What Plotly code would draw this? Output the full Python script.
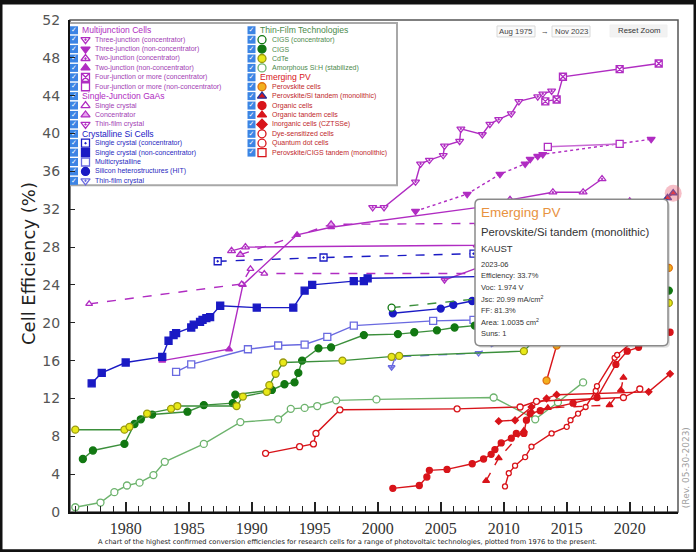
import plotly.graph_objects as go

# page pixels of the plot area (only used for the decorations drawn on x2/y2)
L, R, T, B = 70, 678, 18, 512

# ---------------- data: year vs. cell efficiency (%) ----------------
mj3c_year = [1999.6, 2000.5, 2003.0, 2003.4, 2004.1, 2005.2, 2005.3, 2006.5, 2006.6, 2008.3, 2008.9, 2009.6, 2010.6, 2011.2, 2012.7, 2013.1, 2013.8]
mj3c_eff = [32.2, 32.2, 34.9, 36.8, 37.2, 37.7, 38.7, 39.2, 40.5, 39.9, 41.0, 41.5, 42.1, 43.4, 43.9, 44.2, 44.5]
mj3n_year = [2003.0, 2007.1, 2009.7, 2011.7, 2012.1, 2012.7, 2013.1, 2021.7]
mj3n_eff = [31.8, 33.6, 35.7, 36.8, 37.3, 37.6, 37.8, 39.4]
mj2c_year = [1988.4, 1989.5, 2007.9, 2010.5, 2013.9, 2016.3, 2017.8]
mj2c_eff = [27.6, 28.0, 28.2, 33.0, 33.8, 33.8, 35.2]
mj2n_year = [1982.9, 1988.2, 1989.3, 1993.6, 1996.3, 2008.0, 2013.0, 2017.5, 2020.0]
mj2n_eff = [16.0, 17.2, 24.0, 29.3, 30.1, 32.2, 32.5, 32.6, 32.9]
mj4c_year = [2013.3, 2014.2, 2014.7, 2019.2, 2022.3]
mj4c_eff = [43.4, 43.6, 46.0, 46.8, 47.4]
mj4n_year = [2013.5, 2019.2]
mj4n_eff = [38.6, 38.9]

gaas_sc_year = [1977.1, 1989.2, 1989.9, 1991.0, 2012.0, 2018.5]
gaas_sc_eff = [22.0, 24.1, 25.7, 25.2, 25.2, 27.8]
gaas_conc_year = [1989.1, 1996.3, 2008.0, 2010.0]
gaas_conc_eff = [27.2, 30.4, 30.5, 29.1]
gaas_tf_year = [2005.3, 2008.5, 2011.5, 2018.5]
gaas_tf_eff = [24.5, 26.1, 28.8, 29.1]

si_c_year = [1987.3, 1995.7, 2007.6, 2014.0]
si_c_eff = [26.5, 26.9, 27.3, 27.6]
si_n_year = [1977.3, 1978.1, 1980.0, 1982.9, 1983.4, 1983.8, 1984.0, 1985.2, 1985.4, 1985.9, 1986.1, 1986.4,
             1986.7, 1987.5, 1990.4, 1993.3, 1994.2, 1994.8, 1998.1, 1998.9, 1999.2, 2014.0, 2018.5]
si_n_eff = [13.6, 14.7, 15.8, 16.4, 18.1, 18.7, 18.9, 19.5, 19.8, 20.1, 20.3, 20.5,
            20.6, 21.8, 21.6, 21.6, 23.4, 24.0, 24.4, 24.4, 24.7, 25.0, 26.1]
si_mc_year = [1984.0, 1985.2, 1989.7, 1992.1, 1994.2, 1996.0, 1998.1, 2004.4, 2007.6, 2015.0, 2017.5, 2020.5]
si_mc_eff = [14.8, 15.6, 17.2, 17.6, 17.7, 18.5, 19.7, 20.2, 20.3, 21.3, 22.3, 23.3]
si_hit_year = [2001.2, 2005.0, 2006.0, 2007.5, 2011.0, 2014.3, 2017.0]
si_hit_eff = [21.0, 21.5, 21.9, 22.3, 23.0, 25.6, 26.7]
si_tf_year = [2001.1, 2001.4, 2008.0, 2014.5]
si_tf_eff = [15.3, 16.4, 16.8, 21.2]

cigs_c_year = [2001.1, 2013.5]
cigs_c_eff = [21.6, 23.3]
cigs_year = [1976.6, 1977.4, 1979.9, 1980.7, 1981.2, 1982.1, 1984.9, 1986.2, 1988.5, 1988.7, 1991.6, 1992.6, 1993.4, 1993.7,
             1994.0, 1995.3, 1996.3, 1998.9, 2001.6, 2002.9, 2004.7, 2006.1, 2007.7, 2013.5, 2016.0, 2019.0, 2023.1]
cigs_eff = [5.6, 6.5, 7.2, 9.3, 9.8, 10.3, 10.6, 11.3, 11.5, 12.4, 12.9, 13.5, 13.7, 14.7,
            16.0, 17.3, 17.4, 18.7, 18.8, 19.0, 19.2, 19.5, 19.7, 21.7, 22.6, 23.35, 23.4]
cdte_year = [1976.0, 1979.9, 1980.3, 1981.7, 1983.6, 1984.1, 1988.8, 1989.3, 1991.2, 1991.4, 1991.9, 1992.5,
             1997.2, 2001.1, 2001.7, 2011.6, 2013.5, 2014.5, 2016.0, 2023.1]
cdte_eff = [8.7, 8.7, 9.0, 10.4, 10.9, 11.2, 11.2, 12.2, 12.7, 13.4, 14.6, 15.8,
            16.0, 16.4, 16.5, 17.0, 19.6, 21.0, 22.1, 22.1]
asi_year = [1976.0, 1978.0, 1979.1, 1980.1, 1981.1, 1982.2, 1983.1, 1986.2, 1989.1, 1992.1, 1993.1, 1994.2,
            1995.2, 1996.7, 1999.9, 2009.2, 2012.5, 2014.3, 2016.3]
asi_eff = [0.5, 1.0, 2.1, 2.8, 3.1, 3.9, 5.3, 7.2, 9.5, 9.8, 10.9, 11.0,
           11.2, 11.8, 11.9, 12.1, 9.8, 11.6, 13.7]

pvk_year = [2013.4, 2014.2, 2014.9, 2016.0, 2017.0, 2019.5, 2021.0, 2023.1]
pvk_eff = [13.9, 17.6, 20.1, 22.1, 22.7, 25.2, 25.7, 25.8]
pvsi_year = [2016.0, 2017.0, 2018.4, 2018.8, 2019.9, 2020.9, 2022.0, 2022.5, 2023.0, 2023.45]
pvsi_eff = [23.6, 25.2, 27.3, 28.0, 29.1, 29.8, 31.3, 32.5, 33.2, 33.7]
org_year = [2001.2, 2003.3, 2003.9, 2004.1, 2005.5, 2007.5, 2008.4, 2009.0, 2009.3, 2009.8, 2010.6, 2011.0,
            2011.6, 2011.8, 2012.1, 2012.9, 2015.5, 2017.4, 2018.9, 2019.8, 2020.7, 2022.0, 2023.2]
org_eff = [2.5, 2.8, 3.7, 4.4, 4.5, 5.1, 5.6, 6.1, 6.6, 7.3, 7.8, 8.3,
           8.3, 9.7, 10.4, 10.7, 11.5, 12.1, 15.6, 17.0, 17.4, 18.2, 19.0]
org_t_year = [2008.6, 2009.6, 2011.6, 2012.2, 2013.5, 2018.4, 2019.3, 2019.5]
org_t_eff = [3.3, 5.7, 8.6, 10.6, 11.0, 11.3, 12.9, 14.2]
czts_year = [2009.6, 2010.9, 2012.2, 2013.4, 2014.2, 2021.5, 2023.2]
czts_eff = [9.6, 9.7, 11.1, 12.0, 12.4, 12.7, 14.6]
dssc_year = [1991.1, 1993.8, 1994.9, 1995.1, 1997.0, 2006.3, 2011.3, 2012.6, 2019.5, 2020.8]
dssc_eff = [6.2, 6.9, 7.2, 8.3, 10.8, 10.9, 11.1, 11.7, 12.1, 13.0]
qd_year = [2010.1, 2010.4, 2010.9, 2011.7, 2012.2, 2013.8, 2015.0, 2015.3, 2015.9, 2016.5, 2017.3, 2017.4, 2018.8, 2019.0, 2020.3]
qd_eff = [2.7, 4.1, 4.9, 5.8, 6.9, 8.3, 9.0, 9.7, 10.4, 11.1, 12.8, 13.3, 16.3, 16.6, 18.1]
pvcigs_year = [2019.9, 2020.8, 2022.3]
pvcigs_eff = [23.3, 24.2, 24.2]

x_ticks = [1980, 1985, 1990, 1995, 2000, 2005, 2010, 2015, 2020]
y_ticks = list(range(0, 53, 4))

# ---------------- styles ----------------
MJ = "#b02cc2"
MJ_L = "#c86ad4"
SI = "#1a1ac4"
SI_L = "#6a6ae0"
GR = "#3b8f3b"
GR_D = "#127812"
GR_L = "#6db36d"
YEL = "#e8e818"
RED = "#d8141a"
ORA = "#f2b01e"
W = "white"

# label, x, y, line colour, marker fill, marker edge, symbol, dash, size
series = {
    "mj3c": ("Three-junction (concentrator)", mj3c_year, mj3c_eff, MJ, W, MJ, "triangle-down-dot", "solid", 7),
    "mj3n": ("Three-junction (non-concentrator)", mj3n_year, mj3n_eff, MJ, MJ, MJ, "triangle-down", "dot", 7),
    "mj2c": ("Two-junction (concentrator)", mj2c_year, mj2c_eff, MJ, W, MJ, "triangle-up-dot", "solid", 7),
    "mj2n": ("Two-junction (non-concentrator)", mj2n_year, mj2n_eff, MJ, MJ, MJ, "triangle-up", "solid", 6),
    "mj4c": ("Four-junction or more (concentrator)", mj4c_year, mj4c_eff, MJ, W, MJ, "square-x", "solid", 7),
    "mj4n": ("Four-junction or more (non-concentrator)", mj4n_year, mj4n_eff, MJ_L, W, MJ, "square", "solid", 7),
    "gaas_sc": ("Single crystal", gaas_sc_year, gaas_sc_eff, MJ, W, MJ, "triangle-up", "dash", 6),
    "gaas_conc": ("Concentrator", gaas_conc_year, gaas_conc_eff, MJ, "#e6a3ee", MJ, "triangle-up", "dash", 7),
    "gaas_tf": ("Thin-film crystal", gaas_tf_year, gaas_tf_eff, MJ, W, MJ, "triangle-down-dot", "solid", 6),
    "si_c": ("Single crystal (concentrator)", si_c_year, si_c_eff, SI, W, SI, "square-dot", "dash", 7),
    "si_n": ("Single crystal (non-concentrator)", si_n_year, si_n_eff, SI, SI, SI, "square", "solid", 7),
    "si_mc": ("Multicrystalline", si_mc_year, si_mc_eff, SI_L, W, SI_L, "square", "solid", 7),
    "si_hit": ("Silicon heterostructures (HIT)", si_hit_year, si_hit_eff, SI, SI, SI, "circle", "solid", 7),
    "si_tf": ("Thin-film crystal", si_tf_year, si_tf_eff, SI_L, W, SI_L, "triangle-down-dot", "dash", 6),
    "cigs_c": ("CIGS (concentrator)", cigs_c_year, cigs_c_eff, GR, W, GR_D, "circle", "dash", 7),
    "cigs": ("CIGS", cigs_year, cigs_eff, GR, GR_D, GR_D, "circle", "solid", 7),
    "cdte": ("CdTe", cdte_year, cdte_eff, GR, YEL, "#9a9a10", "circle", "solid", 7),
    "asi": ("Amorphous Si:H (stabilized)", asi_year, asi_eff, GR_L, W, GR_L, "circle", "solid", 7),
    "pvk": ("Perovskite cells", pvk_year, pvk_eff, RED, ORA, "#e07010", "circle", "solid", 7),
    "pvsi": ("Perovskite/Si tandem (monolithic)", pvsi_year, pvsi_eff, RED, RED, "#24309a", "triangle-up", "solid", 7),
    "org": ("Organic cells", org_year, org_eff, RED, RED, RED, "circle", "solid", 6),
    "org_t": ("Organic tandem cells", org_t_year, org_t_eff, RED, RED, RED, "triangle-up", "dash", 6),
    "czts": ("Inorganic cells (CZTSSe)", czts_year, czts_eff, RED, RED, RED, "diamond", "solid", 5),
    "dssc": ("Dye-sensitized cells", dssc_year, dssc_eff, RED, W, RED, "circle", "solid", 6),
    "qd": ("Quantum dot cells", qd_year, qd_eff, RED, W, RED, "circle", "solid", 5),
    "pvcigs": ("Perovskite/CIGS tandem (monolithic)", pvcigs_year, pvcigs_eff, RED, W, RED, "square", "solid", 7),
}

fig = go.Figure()
for key, (label, xs, ys, lc, fc, ec, sym, dash, size) in series.items():
    fig.add_trace(go.Scatter(
        x=xs, y=ys, mode="lines+markers", name=label,
        line=dict(color=lc, width=1.4, dash=dash),
        marker=dict(symbol=sym, size=size, color=fc, line=dict(color=ec, width=1.3)),
        hoverinfo="skip", showlegend=False))

# hovered point halo (last perovskite/Si tandem record)
fig.add_trace(go.Scatter(
    x=[pvsi_year[-1]], y=[pvsi_eff[-1]], mode="markers", cliponaxis=False,
    marker=dict(size=17, color="rgba(236,110,130,0.45)"), hoverinfo="skip", showlegend=False))

# ---------------- hand-drawn legend (page pixel coords on x2/y2) ----------------
left_rows = [("Multijunction Cells", MJ), "mj3c", "mj3n", "mj2c", "mj2n", "mj4c", "mj4n",
             ("Single-Junction GaAs", MJ), "gaas_sc", "gaas_conc", "gaas_tf",
             ("Crystalline Si Cells", SI), "si_c", "si_n", "si_mc", "si_hit", "si_tf"]
right_rows = [("Thin-Film Technologies", "#4a8a4a"), "cigs_c", "cigs", "cdte", "asi",
              ("Emerging PV", RED), "pvk", "pvsi", "org", "org_t", "czts", "dssc", "qd", "pvcigs"]
item_color = {"mj": "#a23cb4", "ga": "#a23cb4", "si": "#2a2ac0", "ci": "#4d8a4d", "cd": "#4d8a4d",
              "as": "#4d8a4d"}

annotations = []
box_x, box_y, sym_x, sym_y, sym_s, sym_f, sym_e = [], [], [], [], [], [], []


def px_note(x, y, text, size, color, family="Liberation Sans", anchor="left", **kw):
    annotations.append(dict(x=x, y=y, xref="x2", yref="y2", text=text, showarrow=False,
                            xanchor=anchor, yanchor="middle",
                            font=dict(family=family, size=size, color=color), **kw))


for rows, cb_x, s_x, t_x, h_x in [(left_rows, 74, 85.5, 93, 80), (right_rows, 251.5, 262, 270, 258)]:
    for i, row in enumerate(rows):
        y = 28.3 + 9.45 * i
        box_x.append(cb_x)
        box_y.append(y)
        if isinstance(row, tuple):
            px_note(h_x, y, row[0], 8.6, row[1])
        else:
            label, _, _, lc, fc, ec, sym, _, _ = series[row]
            sym_x.append(s_x)
            sym_y.append(y)
            sym_s.append(sym)
            sym_f.append(fc)
            sym_e.append(ec)
            px_note(t_x, y, label, 7, item_color.get(row[:2], "#c0282c"))

fig.add_trace(go.Scatter(
    x=box_x, y=box_y, xaxis="x2", yaxis="y2", mode="markers+text", text=["✓"] * len(box_x),
    textposition="middle center", textfont=dict(color="white", size=7, family="DejaVu Sans"),
    marker=dict(symbol="square", size=8, color="#3c84e4"), hoverinfo="skip", showlegend=False))
fig.add_trace(go.Scatter(
    x=sym_x, y=sym_y, xaxis="x2", yaxis="y2", mode="markers",
    marker=dict(symbol=sym_s, size=8, color=sym_f, line=dict(color=sym_e, width=1.3)),
    hoverinfo="skip", showlegend=False))

shapes = [
    # legend box
    dict(type="rect", xref="x2", yref="y2", x0=68, x1=397, y0=21, y1=184,
         line=dict(color="#a8a8a8", width=2), fillcolor="white", layer="below"),
    # top / right frame
    dict(type="rect", xref="paper", yref="paper", x0=0, x1=1, y0=0, y1=1,
         line=dict(color="#555", width=1.5), layer="below"),
    # range selector boxes
    dict(type="rect", xref="x2", yref="y2", x0=497, x1=535, y0=24, y1=35,
         line=dict(color="#d8d8d8", width=1), fillcolor="#fafafa", layer="below"),
    dict(type="rect", xref="x2", yref="y2", x0=552, x1=590, y0=24, y1=35,
         line=dict(color="#d8d8d8", width=1), fillcolor="#fafafa", layer="below"),
    dict(type="rect", xref="x2", yref="y2", x0=610, x1=667, y0=23, y1=35,
         line=dict(color="#f0f0f0", width=1), fillcolor="#f2f2f2", layer="below"),
]

# tooltip
tip = "M {a},{t} L {b},{t} Q {r},{t} {r},{u} L {r},{v} Q {r},{bt} {b},{bt} L {a},{bt} Q {l},{bt} {l},{v} L {l},{u} Q {l},{t} {a},{t} Z"
shapes.append(dict(type="path", xref="x2", yref="y2", layer="above",
                   path=tip.format(a=482, b=665, l=477, r=670, t=200, u=205, v=342, bt=347),
                   fillcolor="rgba(0,0,0,0.12)", line=dict(width=0)))
shapes.append(dict(type="path", xref="x2", yref="y2", layer="above",
                   path=tip.format(a=480, b=663, l=475, r=668, t=198, u=203, v=340, bt=345),
                   fillcolor="white", line=dict(color="#8a8a8a", width=1.5)))

# outer dark frame of the screenshot
shapes.append(dict(type="rect", xref="paper", yref="paper",
                   x0=-L / 608, x1=1 + 18 / 608, y0=-40 / 494, y1=1 + 18 / 494,
                   line=dict(color="#111", width=5)))

px_note(479, 211, "Emerging PV", 13.5, "#e8923f")
px_note(479, 231, "Perovskite/Si tandem (monolithic)", 11.3, "#333")
px_note(479, 247, "KAUST", 9.5, "#333")
tip_lines = ["2023-06", "Efficiency: 33.7%", "Voc: 1.974 V", "Jsc: 20.99 mA/cm<sup>2</sup>",
             "FF: 81.3%", "Area: 1.0035 cm<sup>2</sup>", "Suns: 1"]
for i, line in enumerate(tip_lines):
    px_note(479, 263 + 11.7 * i, line, 7.5, "#333")

px_note(516, 29.5, "Aug 1975", 7.8, "#444", anchor="center")
px_note(545, 29.5, "→", 7.8, "#444", anchor="center")
px_note(571, 29.5, "Nov 2023", 7.8, "#444", anchor="center")
px_note(638.5, 29, "Reset Zoom", 7.8, "#333", anchor="center")

# axis title, caption, revision note (paper coords)
annotations += [
    dict(x=(28 - L) / 608, y=(B - 262) / 494, xref="paper", yref="paper", text="Cell Efficiency (%)",
         showarrow=False, textangle=-90, xanchor="center", yanchor="middle",
         font=dict(family="DejaVu Sans", size=18, color="#222")),
    dict(x=(347 - L) / 608, y=(B - 542) / 494, xref="paper", yref="paper",
         text="A chart of the highest confirmed conversion efficiencies for research cells for a range of "
              "photovoltaic technologies, plotted from 1976 to the present.",
         showarrow=False, xanchor="center", yanchor="middle",
         font=dict(family="DejaVu Sans", size=6.7, color="#222")),
    dict(x=(686 - L) / 608, y=(B - 468) / 494, xref="paper", yref="paper", text="(Rev. 05-30-2023)",
         showarrow=False, textangle=-90, xanchor="center", yanchor="middle",
         font=dict(family="DejaVu Sans", size=9, color="#a0a0a0")),
]

fig.update_layout(
    width=696, height=552, margin=dict(l=L, r=696 - R, t=T, b=552 - B),
    paper_bgcolor="white", plot_bgcolor="white", showlegend=False,
    xaxis=dict(range=[1975.58, 2023.83], tickmode="array", tickvals=x_ticks, ticks="inside",
               ticklen=10, tickwidth=1.5, tickcolor="#222", showline=True, linecolor="#111", linewidth=2,
               showgrid=False, zeroline=False, ticklabelstandoff=1,
               tickfont=dict(family="Liberation Serif", size=16, color="#333"),
               minor=dict(dtick=1, tick0=1976, ticks="inside", ticklen=6, tickwidth=1.2, tickcolor="#222"),
               fixedrange=True),
    yaxis=dict(range=[0, 52], tickmode="array", tickvals=y_ticks, ticks="inside", ticklen=5,
               tickwidth=1.2, tickcolor="#222", showline=True, linecolor="#111", linewidth=2,
               showgrid=False, zeroline=False, ticklabelstandoff=5,
               tickfont=dict(family="DejaVu Sans", size=14, color="#555"), fixedrange=True),
    xaxis2=dict(overlaying="x", range=[L, R], visible=False, fixedrange=True),
    yaxis2=dict(overlaying="y", range=[B, T], visible=False, fixedrange=True),
    shapes=shapes, annotations=annotations,
)

# the page body margin would shift the 696x552 figure inside the window
fig.write_html("out.html", config={"displayModeBar": False},
               post_script="document.body.style.margin='0';document.body.style.overflow='hidden';")
